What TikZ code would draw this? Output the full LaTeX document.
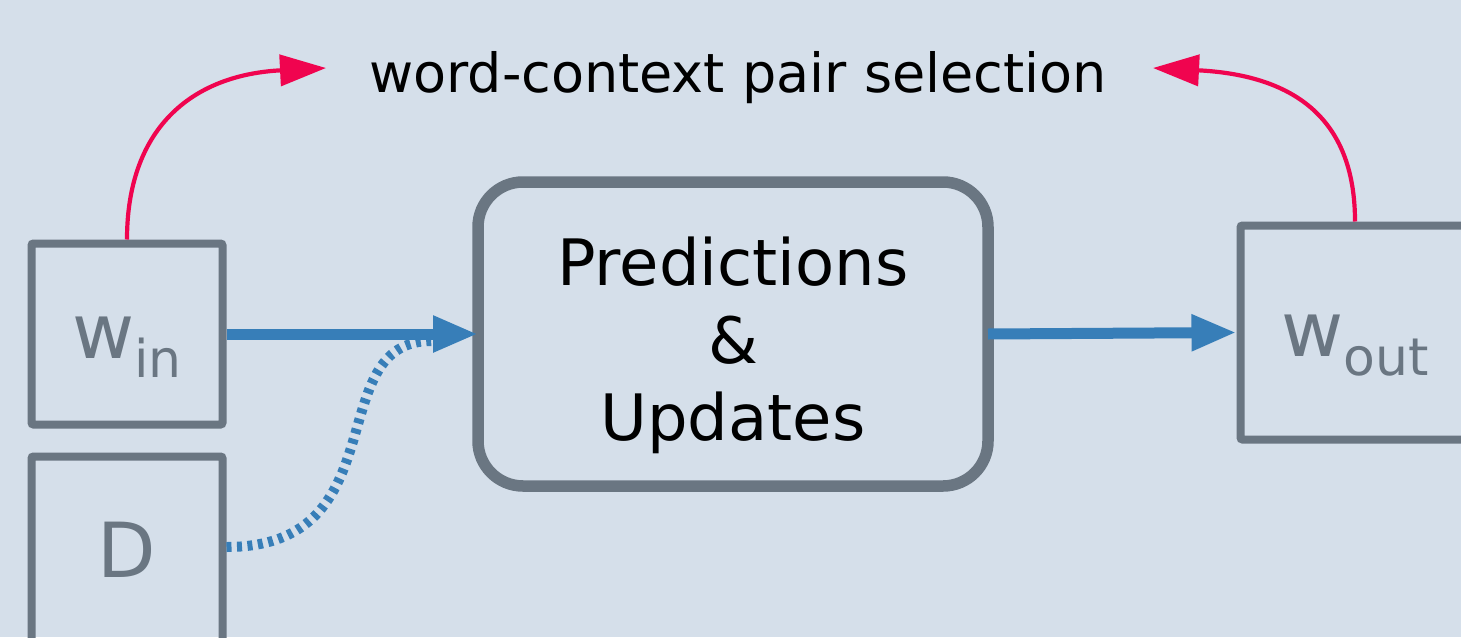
\documentclass[tikz,border=0pt]{standalone}
\usepackage{fontspec}
\setmainfont{DejaVu Sans}
\usetikzlibrary{arrows.meta}
\definecolor{bg}{HTML}{D5DFEA}
\definecolor{boxgray}{HTML}{6A7682}
\definecolor{flowblue}{HTML}{377EB8}
\definecolor{selred}{HTML}{F0044F}
\begin{document}
\begin{tikzpicture}[x=1pt,y=-1pt,
  smallbox/.style={draw=boxgray, line width=8pt, rounded corners=2pt, inner sep=0pt,
    text=boxgray, font=\fontsize{76}{80}\selectfont},
  predbox/.style={draw=boxgray, line width=11.5pt, rounded corners=45pt,
    minimum width=510pt, minimum height=304pt, outer sep=0pt, inner sep=0pt,
    align=center, font=\fontsize{64}{77.5}\selectfont},
  flow/.style={draw=flowblue, line width=11pt, -{Triangle[length=45pt,width=34pt]}},
  dotflow/.style={draw=flowblue, line width=10pt, dash pattern=on 5pt off 5.5pt},
  sel/.style={draw=selred, line width=4.2pt, -{Triangle[length=46pt,width=31pt]}},
  seltext/.style={anchor=base, inner sep=0pt, font=\fontsize{54}{60}\selectfont}
]
\fill[bg] (0,0) rectangle (1461,637);
\useasboundingbox (0,0) rectangle (1461,637);
\clip (0,0) rectangle (1461,637);

\node[smallbox, minimum width=191pt, minimum height=181pt, text height=48pt, text depth=0pt]
  (win) at (127,334) {w\raisebox{-19pt}{\fontsize{52}{52}\selectfont in}};
\node[smallbox, minimum width=191pt, minimum height=187pt]
  (D) at (127,550) {D};
\node[smallbox, minimum width=229pt, minimum height=214pt, text height=47pt, text depth=0pt]
  (wout) at (1355,332.5) {w\raisebox{-19pt}{\fontsize{52}{52}\selectfont out}};
\node[predbox] (pred) at (733,334) {\rule{0pt}{72pt}Predictions\\ \&\\ Updates};
\node[seltext] (sel) at (738,92) {word-context pair selection};

\coordinate (dend) at (432,341);
\coordinate (lt) at (326,68);
\coordinate (rt) at (1153,68);

\draw[dotflow] ([yshift=3pt]D.east) .. controls (400,547) and (320,340) .. (dend);
\draw[flow] (win.east) -- (pred.west);
\draw[flow] (pred.east) -- (wout.west);
\draw[sel] (win.north) .. controls (127,130) and (190,75) .. (lt);
\draw[sel] (wout.north) .. controls (1355,115) and (1290,75) .. (rt);
\end{tikzpicture}
\end{document}
